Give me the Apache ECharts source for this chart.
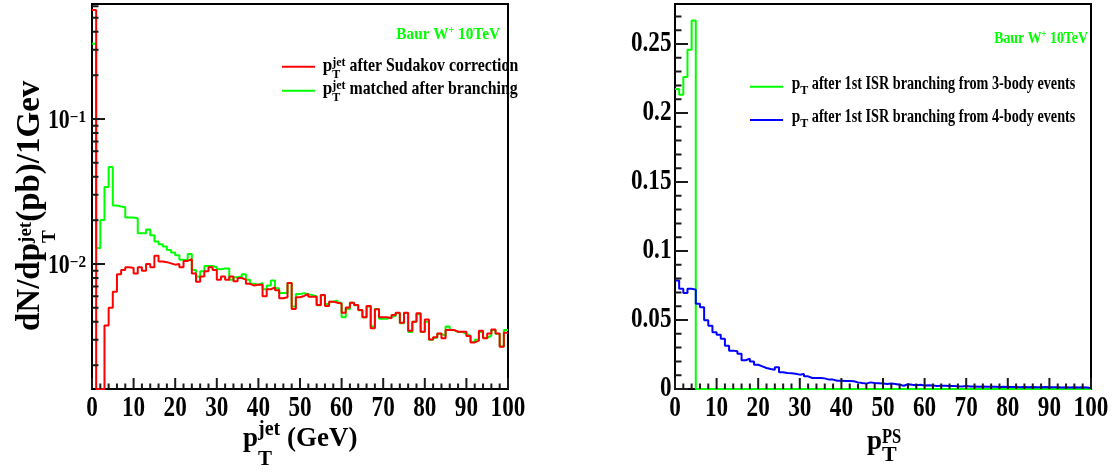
<!DOCTYPE html>
<html><head><meta charset="utf-8">
<script src="https://cdn.jsdelivr.net/npm/echarts@6/dist/echarts.min.js"></script>
<style>html,body{margin:0;padding:0;background:#fff}#c{width:1117px;height:473px}</style>
</head><body><div id="c"></div>
<script>
// ---------------- data (1 GeV bins, 0..100) ----------------
const binWidth = 1;
const leftRed = [0.565,0,0,0.00376,0.0050,0.00644,0.0085,0.0091,0.0095,0.0094,
 0.0086,0.0095,0.0090,0.0100,0.0095,0.0114,0.0104,0.0103,0.0101,0.0099,
 0.0100,0.0095,0.0105,0.0108,0.0086,0.00755,0.0082,0.0089,0.0095,0.0091,
 0.0078,0.0082,0.0078,0.0082,0.0076,0.0080,0.0078,0.0073,0.0071,0.0072,
 0.0072,0.0060,0.0067,0.0069,0.0066,0.0058,0.0059,0.0074,0.0049,0.0059,
 0.00602,0.00621,0.00595,0.00595,0.00521,0.00611,0.00513,0.00550,0.00541,0.00535,
 0.00462,0.00502,0.00541,0.00521,0.00482,0.00429,0.00513,0.00360,0.00487,0.00429,
 0.00429,0.00422,0.00445,0.00462,0.00394,0.00462,0.00347,0.00400,0.00457,0.00341,
 0.00415,0.00302,0.00312,0.00332,0.00307,0.00351,0.00351,0.00341,0.00341,0.00341,
 0.00319,0.00288,0.00296,0.00347,0.00307,0.00332,0.00354,0.00332,0.00269,0.00336];
const leftGreen = [0.33,0.0129,0.0201,0.034,0.0467,0.0253,0.0249,0.0246,0.0209,0.0209,
 0.0207,0.0163,0.0163,0.0173,0.0158,0.0143,0.0137,0.0132,0.0125,0.0120,
 0.0115,0.0107,0.0106,0.0117,0.0091,0.0082,0.0089,0.0097,0.0097,0.0095,
 0.0092,0.0093,0.0093,0.0078,0.0081,0.0082,0.0085,0.0078,0.0073,0.0072,
 0.0074,0.0067,0.0071,0.0077,0.0068,0.0063,0.0063,0.0074,0.0051,0.0062,
 0.0063,0.0062,0.0061,0.0060,0.0052,0.0061,0.0053,0.0055,0.0056,0.0054,
 0.0043,0.0049,0.0054,0.0052,0.0048,0.0043,0.0051,0.0037,0.0049,0.0042,
 0.0042,0.0043,0.0044,0.0046,0.0039,0.0046,0.0034,0.0040,0.0045,0.0034,
 0.0040,0.0030,0.0031,0.0033,0.0032,0.0037,0.0035,0.0034,0.0034,0.0033,
 0.0032,0.0029,0.0030,0.0034,0.0031,0.0032,0.0035,0.0033,0.0027,0.0035];
const rightGreen = [0.2174,0.2133,0.2261,0.2459,0.2671,0,0,0,0,0,
 0,0,0,0,0,0,0,0,0,0, 0,0,0,0,0,0,0,0,0,0, 0,0,0,0,0,0,0,0,0,0,
 0,0,0,0,0,0,0,0,0,0, 0,0,0,0,0,0,0,0,0,0, 0,0,0,0,0,0,0,0,0,0,
 0,0,0,0,0,0,0,0,0,0, 0,0,0,0,0,0,0,0,0,0, 0,0,0,0,0,0,0,0,0,0];
const rightBlue = [0.0787,0.0727,0.0696,0.0727,0.0720,0.0618,0.0592,0.0498,0.0459,0.0411,
 0.0394,0.0365,0.0314,0.0278,0.0273,0.0256,0.0208,0.0220,0.0200,0.0176,
 0.0164,0.0152,0.0145,0.0140,0.0157,0.0121,0.0116,0.0114,0.0111,0.0104,
 0.0109,0.0092,0.0080,0.0080,0.0080,0.0077,0.0068,0.0068,0.0060,0.0060,
 0.0058,0.0058,0.0056,0.0048,0.0043,0.0039,0.0048,0.0043,0.0041,0.0039,
 0.0036,0.0039,0.0036,0.0031,0.0024,0.0034,0.0030,0.0028,0.0031,0.0026,
 0.0027,0.0025,0.0022,0.0024,0.0023,0.0021,0.0022,0.0020,0.0019,0.0021,
 0.0018,0.0019,0.0017,0.0018,0.0016,0.0017,0.0016,0.0015,0.0016,0.0014,
 0.0015,0.0014,0.0013,0.0015,0.0013,0.0014,0.0013,0.0012,0.0014,0.0012,
 0.0013,0.0012,0.0011,0.0013,0.0011,0.0012,0.0011,0.0012,0.0010,0.0008];

const xTickValues = [0,10,20,30,40,50,60,70,80,90,100];
const xTickLabels = ['0','10','20','30','40','50','60','70','80','90','100'];
const leftYTickValues = [0.01, 0.1];
const leftYTickLabels = [['10','\u22122'],['10','\u22121']];
const rightYTickValues = [0,0.05,0.1,0.15,0.2,0.25];
const rightYTickLabels = ['0','0.05','0.1','0.15','0.2','0.25'];

const xMin = 0, xMax = 100;
const leftYMin = 0.001374, leftYMax = 0.621;
const rightYMin = 0, rightYMax = 0.279;

const nameRed = 'pT jet after Sudakov correction';
const nameGreenL = 'pT jet matched after branching';
const nameGreenR = 'pT after 1st ISR branching from 3-body events';
const nameBlue = 'pT after 1st ISR branching from 4-body events';

// ---------------- layout ----------------
const GRID_W = 416, GRID_H = 385;
const TICK_X_MAJOR = 11, TICK_X_MINOR = 5.5, TICK_Y_MAJOR = 13, TICK_Y_MINOR = 6.5;

// ---------------- helpers ----------------
const FAM = '"Liberation Serif", "Times New Roman", serif';
const mctx = document.createElement('canvas').getContext('2d');
function tw(t, f) { mctx.font = 'bold ' + f + 'px ' + FAM; return mctx.measureText(t).width; }

function steps(vals, floor) {
  const pts = [];
  vals.forEach((v, i) => {
    const y = floor != null ? Math.max(v, floor) : v;
    pts.push([i * binWidth, y], [(i + 1) * binWidth, y]);
  });
  return pts;
}

function textEl(x, base, t, f, sx, color, align) {
  return { type: 'text', x: x, y: base - 0.3375 * f, scaleX: sx || 1, silent: true,
    style: { text: t, fontSize: f, fontWeight: 'bold', fontFamily: FAM, fill: color || '#000',
      align: align || 'left', textAlign: align || 'left', verticalAlign: 'middle', textVerticalAlign: 'middle' } };
}
function run(x0, base, parts, color, alignRight) {
  let x = 0, stackW = 0; const items = [];
  parts.forEach(p => {
    const w = tw(p.t, p.f) * (p.sx || 1);
    items.push({ x: x, p: p });
    if (p.stack) stackW = Math.max(stackW, w);
    else { x += Math.max(w, stackW); stackW = 0; }
  });
  const start = alignRight ? x0 - x : x0;
  return items.map(it => textEl(start + it.x, base + (it.p.dy || 0), it.p.t, it.p.f, it.p.sx, color));
}

function labelSeries(idx, specs) {
  return { type: 'custom', xAxisIndex: idx, yAxisIndex: idx, silent: true, animation: false, z: 7,
    itemStyle: { color: '#000' },
    data: specs.map(s => [s.x, s.y]), encode: { x: 0, y: 1 },
    renderItem: (params, api) => {
      const s = specs[params.dataIndex];
      const p = api.coord([s.x, s.y]);
      if (s.kind === 'x') {
        return { type: 'group', children: [textEl(p[0], p[1] + 29, s.text, 29, 0.8, '#000', 'center')] };
      }
      if (s.kind === 'yr') {
        return { type: 'group', children: [textEl(p[0] - 3.5, p[1] + 9.5, s.text, 29, 0.8, '#000', 'right')] };
      }
      const R = p[0] - 6;
      const ws = tw(s.exp, 16) * 0.95;
      return { type: 'group', children: [
        textEl(R - ws, p[1] + 11.5, s.text, 28, 0.78, '#000', 'right'),
        textEl(R - ws, p[1] + 4.5, s.exp, 16, 0.95, '#000', 'left')
      ] };
    } };
}

// tick value lists
const xMinorTicks = [];
for (let v = 2; v < 100; v += 2) if (v % 10 !== 0) xMinorTicks.push(v);
const leftYMinorTicks = [];
[0.001, 0.01, 0.1].forEach(dec => { for (let k = 2; k <= 9; k++) { const v = +(k * dec).toPrecision(3); if (v > leftYMin && v < leftYMax) leftYMinorTicks.push(v); } });
const rightYMinorTicks = [];
for (let k = 1; k <= 27; k++) if (k % 5 !== 0) rightYMinorTicks.push(+(k * 0.01).toFixed(2));

// tick marks as short segments, lengths converted from pixels into axis units
const xPerPx = (xMax - xMin) / GRID_W;
const logPerPx = Math.log10(leftYMax / leftYMin) / GRID_H;
const linPerPx = (rightYMax - rightYMin) / GRID_H;
function tickPath(yOf, xMajorV, xMinorV, yMajorV, yMinorV, yFloor) {
  const d = [];
  const gap = [NaN, NaN];
  xMajorV.forEach(v => d.push([v, yFloor], [v, yOf(yFloor, TICK_X_MAJOR)], gap));
  xMinorV.forEach(v => d.push([v, yFloor], [v, yOf(yFloor, TICK_X_MINOR)], gap));
  yMajorV.forEach(v => d.push([xMin, v], [xMin + TICK_Y_MAJOR * xPerPx, v], gap));
  yMinorV.forEach(v => d.push([xMin, v], [xMin + TICK_Y_MINOR * xPerPx, v], gap));
  return d;
}
const leftTickPath = tickPath((y0, px) => y0 * Math.pow(10, px * logPerPx), xTickValues, xMinorTicks, leftYTickValues, leftYMinorTicks, leftYMin);
const rightTickPath = tickPath((y0, px) => y0 + px * linPerPx, xTickValues, xMinorTicks, rightYTickValues, rightYMinorTicks, rightYMin);

const leftLabels = xTickValues.map((v, i) => ({ kind: 'x', x: v, y: leftYMin, text: xTickLabels[i] }))
  .concat(leftYTickValues.map((v, i) => ({ kind: 'yl', x: xMin, y: v, text: leftYTickLabels[i][0], exp: leftYTickLabels[i][1] })));
const rightLabels = xTickValues.map((v, i) => ({ kind: 'x', x: v, y: rightYMin, text: xTickLabels[i] }))
  .concat(rightYTickValues.map((v, i) => ({ kind: 'yr', x: xMin, y: v, text: rightYTickLabels[i] })));

// ---------------- texts ----------------
const G = '#00ff00';
const gfx = [];
function line(x1, y1, x2, y2, c) { gfx.push({ type: 'line', silent: true, shape: { x1, y1, x2, y2 }, style: { stroke: c, lineWidth: 2 } }); }
run(500, 40, [{ t: 'Baur W', f: 17, sx: 0.9 }, { t: '+', f: 11, dy: -6.5, sx: 0.9 }, { t: ' 10TeV', f: 17, sx: 0.9 }], G, true).forEach(e => gfx.push(e));
run(1088, 44, [{ t: 'Baur W', f: 16.5, sx: 0.84 }, { t: '+', f: 10.5, dy: -6, sx: 0.84 }, { t: ' 10TeV', f: 16.5, sx: 0.84 }], G, true).forEach(e => gfx.push(e));
line(282, 66.7, 315, 66.7, '#ff0000');
line(282, 90.7, 315, 90.7, G);
run(322.7, 73, [{ t: 'p', f: 19, sx: 0.9 }, { t: 'T', f: 12, dy: 6.3, stack: true }, { t: 'jet', f: 12, dy: -6.3 }, { t: ' after Sudakov correction', f: 19, sx: 0.834 }]).forEach(e => gfx.push(e));
run(322.7, 96, [{ t: 'p', f: 19, sx: 0.9 }, { t: 'T', f: 12, dy: 6.3, stack: true }, { t: 'jet', f: 12, dy: -6.3 }, { t: ' matched after branching', f: 19, sx: 0.834 }]).forEach(e => gfx.push(e));
line(750, 86.7, 783, 86.7, G);
line(750, 120, 783, 120, '#0000ff');
run(791.7, 90, [{ t: 'p', f: 18, sx: 0.85 }, { t: 'T', f: 12, dy: 5 }, { t: ' after 1st ISR branching from 3-body events', f: 18, sx: 0.79 }]).forEach(e => gfx.push(e));
run(791.7, 123.3, [{ t: 'p', f: 18, sx: 0.85 }, { t: 'T', f: 12, dy: 5 }, { t: ' after 1st ISR branching from 4-body events', f: 18, sx: 0.79 }]).forEach(e => gfx.push(e));
run(243, 448, [{ t: 'p', f: 27 }, { t: 'T', f: 21, dy: 18.5, stack: true }, { t: 'jet', f: 20, dy: -11 }, { t: ' (GeV)', f: 27 }]).forEach(e => gfx.push(e));
run(867, 451, [{ t: 'p', f: 27 }, { t: 'T', f: 22, dy: 12, stack: true }, { t: 'PS', f: 22, dy: -6.5, sx: 0.75 }]).forEach(e => gfx.push(e));
gfx.push({ type: 'group', x: 42, y: 331, rotation: Math.PI / 2, silent: true,
  children: run(0, 0, [{ t: 'dN/dp', f: 33 }, { t: 'T', f: 19, dy: 14.5, stack: true }, { t: 'jet', f: 19, dy: -9.5 }, { t: '(pb)/1Gev', f: 33 }]) });

// ---------------- chart ----------------
const hidden = { axisLine: { show: false }, axisTick: { show: false }, axisLabel: { show: false }, splitLine: { show: false }, minorTick: { show: false } };
const chart = echarts.init(document.getElementById('c'), null, { renderer: 'canvas' });
chart.setOption({
  animation: false,
  backgroundColor: '#fff',
  grid: [
    { left: 92, top: 4, width: GRID_W, height: GRID_H, show: true, borderColor: '#000', borderWidth: 2, backgroundColor: 'transparent', containLabel: false },
    { left: 675, top: 4, width: GRID_W, height: GRID_H, show: true, borderColor: '#000', borderWidth: 2, backgroundColor: 'transparent', containLabel: false }
  ],
  xAxis: [
    Object.assign({ type: 'value', gridIndex: 0, min: xMin, max: xMax, interval: 10 }, hidden),
    Object.assign({ type: 'value', gridIndex: 1, min: xMin, max: xMax, interval: 10 }, hidden)
  ],
  yAxis: [
    Object.assign({ type: 'log', logBase: 10, gridIndex: 0, min: leftYMin, max: leftYMax }, hidden),
    Object.assign({ type: 'value', gridIndex: 1, min: rightYMin, max: rightYMax, interval: 0.05 }, hidden)
  ],
  graphic: { elements: gfx },
  series: [
    { name: nameGreenL, type: 'line', xAxisIndex: 0, yAxisIndex: 0, data: steps(leftGreen, leftYMin), symbol: 'none', showSymbol: false, clip: true, silent: true, z: 3, lineStyle: { color: '#00ff00', width: 2 }, itemStyle: { color: '#00ff00' } },
    { name: nameRed, type: 'line', xAxisIndex: 0, yAxisIndex: 0, data: steps(leftRed, leftYMin), symbol: 'none', showSymbol: false, clip: true, silent: true, z: 4, lineStyle: { color: '#ff0000', width: 2 }, itemStyle: { color: '#ff0000' } },
    { name: nameGreenR, type: 'line', xAxisIndex: 1, yAxisIndex: 1, data: steps(rightGreen), symbol: 'none', showSymbol: false, clip: true, silent: true, z: 3, lineStyle: { color: '#00ff00', width: 2 }, itemStyle: { color: '#00ff00' } },
    { name: nameBlue, type: 'line', xAxisIndex: 1, yAxisIndex: 1, data: steps(rightBlue), symbol: 'none', showSymbol: false, clip: true, silent: true, z: 4, lineStyle: { color: '#0000ff', width: 2 }, itemStyle: { color: '#0000ff' } },
    { name: 'ticks-left', type: 'line', xAxisIndex: 0, yAxisIndex: 0, data: leftTickPath, connectNulls: false, symbol: 'none', showSymbol: false, clip: false, silent: true, z: 5, lineStyle: { color: '#1a1a1a', width: 2 }, itemStyle: { color: '#1a1a1a' } },
    { name: 'ticks-right', type: 'line', xAxisIndex: 1, yAxisIndex: 1, data: rightTickPath, connectNulls: false, symbol: 'none', showSymbol: false, clip: false, silent: true, z: 5, lineStyle: { color: '#1a1a1a', width: 2 }, itemStyle: { color: '#1a1a1a' } },
    labelSeries(0, leftLabels),
    labelSeries(1, rightLabels)
  ]
});
</script></body></html>
